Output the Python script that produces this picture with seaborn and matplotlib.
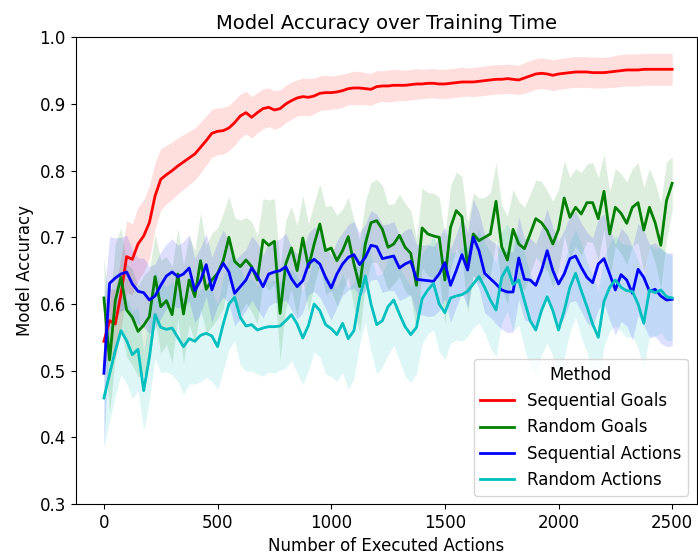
import numpy as np
import pandas as pd
import matplotlib
matplotlib.use("Agg")
import matplotlib.pyplot as plt
import seaborn as sns

# Executed actions at which the model was evaluated
steps = list(range(0, 2501, 25))

methods = ["Sequential Goals", "Random Goals", "Sequential Actions", "Random Actions"]
colors = {"Sequential Goals": "red", "Random Goals": "green",
          "Sequential Actions": "blue", "Random Actions": "c"}

# Mean accuracy per method
seq_goals = [
    0.544, 0.575, 0.570, 0.615, 0.671, 0.667, 0.690, 0.702, 0.722, 0.762,
    0.787, 0.794, 0.800, 0.807, 0.813, 0.819, 0.825, 0.835, 0.845, 0.856,
    0.859, 0.860, 0.864, 0.872, 0.882, 0.887, 0.880, 0.887, 0.893, 0.895,
    0.891, 0.893, 0.900, 0.905, 0.909, 0.911, 0.910, 0.912, 0.916, 0.917,
    0.917, 0.918, 0.920, 0.923, 0.924, 0.924, 0.923, 0.922, 0.926, 0.927,
    0.927, 0.928, 0.928, 0.928, 0.929, 0.930, 0.930, 0.931, 0.931, 0.930,
    0.930, 0.931, 0.932, 0.933, 0.933, 0.933, 0.934, 0.935, 0.936, 0.937,
    0.937, 0.938, 0.937, 0.936, 0.939, 0.942, 0.945, 0.946, 0.945, 0.943,
    0.945, 0.946, 0.947, 0.948, 0.948, 0.948, 0.947, 0.947, 0.947, 0.948,
    0.949, 0.950, 0.951, 0.951, 0.951, 0.952, 0.952, 0.952, 0.952, 0.952,
    0.952]
rand_goals = [
    0.609, 0.516, 0.605, 0.640, 0.591, 0.580, 0.559, 0.568, 0.581, 0.641,
    0.596, 0.605, 0.584, 0.645, 0.585, 0.636, 0.611, 0.665, 0.622, 0.636,
    0.646, 0.665, 0.700, 0.664, 0.656, 0.666, 0.656, 0.636, 0.696, 0.688,
    0.694, 0.586, 0.660, 0.684, 0.650, 0.699, 0.655, 0.690, 0.720, 0.680,
    0.684, 0.665, 0.680, 0.701, 0.660, 0.626, 0.690, 0.722, 0.725, 0.712,
    0.685, 0.690, 0.703, 0.685, 0.676, 0.628, 0.714, 0.705, 0.702, 0.700,
    0.636, 0.715, 0.740, 0.731, 0.655, 0.705, 0.695, 0.700, 0.705, 0.754,
    0.686, 0.666, 0.712, 0.690, 0.683, 0.705, 0.728, 0.722, 0.710, 0.690,
    0.712, 0.759, 0.730, 0.745, 0.735, 0.752, 0.752, 0.728, 0.769, 0.705,
    0.745, 0.736, 0.721, 0.745, 0.752, 0.711, 0.745, 0.722, 0.688, 0.755,
    0.781]
seq_actions = [
    0.496, 0.631, 0.639, 0.645, 0.648, 0.630, 0.619, 0.617, 0.606, 0.612,
    0.628, 0.642, 0.648, 0.641, 0.645, 0.654, 0.620, 0.635, 0.659, 0.621,
    0.645, 0.661, 0.648, 0.616, 0.626, 0.636, 0.654, 0.642, 0.626, 0.645,
    0.648, 0.650, 0.656, 0.638, 0.626, 0.635, 0.660, 0.667, 0.660, 0.640,
    0.624, 0.645, 0.660, 0.670, 0.674, 0.659, 0.670, 0.688, 0.686, 0.668,
    0.670, 0.672, 0.654, 0.660, 0.664, 0.637, 0.636, 0.635, 0.634, 0.645,
    0.662, 0.628, 0.650, 0.674, 0.651, 0.700, 0.680, 0.646, 0.638, 0.630,
    0.621, 0.618, 0.618, 0.669, 0.637, 0.636, 0.628, 0.650, 0.680, 0.650,
    0.630, 0.645, 0.668, 0.672, 0.655, 0.640, 0.632, 0.660, 0.668, 0.645,
    0.621, 0.644, 0.636, 0.616, 0.652, 0.640, 0.619, 0.622, 0.612, 0.606,
    0.607]
rand_actions = [
    0.459, 0.495, 0.530, 0.560, 0.545, 0.524, 0.532, 0.470, 0.520, 0.584,
    0.565, 0.562, 0.564, 0.550, 0.536, 0.548, 0.544, 0.553, 0.556, 0.552,
    0.536, 0.570, 0.600, 0.610, 0.580, 0.567, 0.569, 0.561, 0.564, 0.566,
    0.566, 0.567, 0.575, 0.584, 0.570, 0.549, 0.568, 0.600, 0.590, 0.569,
    0.563, 0.554, 0.571, 0.548, 0.560, 0.610, 0.642, 0.600, 0.569, 0.575,
    0.596, 0.606, 0.585, 0.566, 0.554, 0.565, 0.608, 0.621, 0.631, 0.600,
    0.587, 0.609, 0.612, 0.614, 0.619, 0.630, 0.641, 0.625, 0.606, 0.591,
    0.640, 0.655, 0.629, 0.636, 0.605, 0.575, 0.561, 0.590, 0.611, 0.590,
    0.561, 0.590, 0.625, 0.646, 0.620, 0.596, 0.570, 0.550, 0.604, 0.625,
    0.636, 0.625, 0.620, 0.619, 0.600, 0.571, 0.621, 0.617, 0.621, 0.611,
    0.609]

# Half-width of the 95% confidence interval per method
seq_goals_ci = [
    0.040, 0.048, 0.052, 0.055, 0.054, 0.053, 0.055, 0.054, 0.055, 0.050,
    0.046, 0.044, 0.043, 0.042, 0.041, 0.040, 0.039, 0.038, 0.037, 0.036,
    0.035, 0.035, 0.034, 0.034, 0.033, 0.032, 0.031, 0.030, 0.030, 0.029,
    0.029, 0.028, 0.028, 0.028, 0.027, 0.028, 0.028, 0.027, 0.026, 0.026,
    0.025, 0.025, 0.025, 0.024, 0.025, 0.025, 0.024, 0.024, 0.024, 0.023,
    0.024, 0.024, 0.023, 0.023, 0.023, 0.023, 0.022, 0.022, 0.022, 0.022,
    0.022, 0.022, 0.022, 0.022, 0.021, 0.022, 0.022, 0.022, 0.022, 0.022,
    0.022, 0.022, 0.022, 0.022, 0.023, 0.023, 0.023, 0.023, 0.023, 0.023,
    0.023, 0.023, 0.023, 0.023, 0.023, 0.023, 0.023, 0.023, 0.023, 0.023,
    0.024, 0.024, 0.024, 0.024, 0.024, 0.024, 0.024, 0.024, 0.024, 0.024,
    0.024]
rand_goals_ci = [
    0.060, 0.080, 0.085, 0.075, 0.070, 0.072, 0.068, 0.075, 0.070, 0.065,
    0.070, 0.066, 0.072, 0.068, 0.074, 0.066, 0.070, 0.072, 0.066, 0.070,
    0.068, 0.072, 0.062, 0.066, 0.070, 0.064, 0.068, 0.066, 0.062, 0.068,
    0.064, 0.070, 0.066, 0.062, 0.068, 0.064, 0.066, 0.062, 0.060, 0.066,
    0.064, 0.068, 0.062, 0.060, 0.066, 0.070, 0.064, 0.060, 0.062, 0.066,
    0.064, 0.060, 0.062, 0.066, 0.064, 0.070, 0.060, 0.062, 0.064, 0.060,
    0.066, 0.062, 0.058, 0.060, 0.068, 0.062, 0.064, 0.060, 0.062, 0.058,
    0.062, 0.066, 0.060, 0.064, 0.062, 0.060, 0.058, 0.062, 0.060, 0.064,
    0.060, 0.056, 0.060, 0.058, 0.062, 0.058, 0.060, 0.062, 0.056, 0.064,
    0.058, 0.060, 0.062, 0.058, 0.060, 0.064, 0.058, 0.060, 0.064, 0.058,
    0.040]
seq_actions_ci = [
    0.110, 0.070, 0.060, 0.055, 0.055, 0.052, 0.050, 0.052, 0.050, 0.048,
    0.050, 0.048, 0.050, 0.047, 0.049, 0.050, 0.048, 0.050, 0.047, 0.049,
    0.048, 0.050, 0.047, 0.049, 0.048, 0.046, 0.048, 0.050, 0.047, 0.048,
    0.046, 0.048, 0.050, 0.047, 0.049, 0.048, 0.046, 0.048, 0.050, 0.047,
    0.048, 0.050, 0.047, 0.049, 0.050, 0.048, 0.050, 0.052, 0.049, 0.051,
    0.050, 0.052, 0.049, 0.051, 0.050, 0.053, 0.052, 0.054, 0.052, 0.055,
    0.054, 0.056, 0.055, 0.057, 0.056, 0.058, 0.057, 0.059, 0.058, 0.060,
    0.059, 0.061, 0.060, 0.062, 0.061, 0.063, 0.062, 0.064, 0.063, 0.065,
    0.064, 0.066, 0.065, 0.067, 0.066, 0.068, 0.067, 0.068, 0.067, 0.069,
    0.068, 0.070, 0.069, 0.070, 0.069, 0.071, 0.070, 0.070, 0.071, 0.070,
    0.070]
rand_actions_ci = [
    0.075, 0.070, 0.068, 0.066, 0.064, 0.066, 0.062, 0.060, 0.064, 0.066,
    0.068, 0.064, 0.070, 0.066, 0.072, 0.068, 0.064, 0.070, 0.066, 0.068,
    0.064, 0.070, 0.068, 0.066, 0.072, 0.068, 0.070, 0.066, 0.072, 0.068,
    0.070, 0.066, 0.072, 0.068, 0.074, 0.070, 0.068, 0.072, 0.070, 0.074,
    0.072, 0.070, 0.074, 0.076, 0.072, 0.070, 0.068, 0.072, 0.074, 0.070,
    0.072, 0.068, 0.070, 0.074, 0.072, 0.070, 0.068, 0.066, 0.070, 0.072,
    0.070, 0.068, 0.066, 0.070, 0.068, 0.066, 0.070, 0.068, 0.072, 0.070,
    0.068, 0.066, 0.070, 0.068, 0.072, 0.070, 0.068, 0.066, 0.070, 0.068,
    0.066, 0.070, 0.068, 0.066, 0.070, 0.068, 0.072, 0.070, 0.068, 0.066,
    0.068, 0.066, 0.070, 0.068, 0.066, 0.070, 0.068, 0.066, 0.064, 0.066,
    0.064]

means = {"Sequential Goals": seq_goals, "Random Goals": rand_goals,
         "Sequential Actions": seq_actions, "Random Actions": rand_actions}
cis = {"Sequential Goals": seq_goals_ci, "Random Goals": rand_goals_ci,
       "Sequential Actions": seq_actions_ci, "Random Actions": rand_actions_ci}

df = pd.concat(
    [pd.DataFrame({"Executed": steps, "Accuracy": means[m], "ci": cis[m], "Method": m})
     for m in methods],
    ignore_index=True,
)

plt.rcParams.update({"font.size": 12, "font.family": "DejaVu Sans"})

fig = plt.figure(figsize=(6.98, 5.57), dpi=100)
ax = fig.add_axes([75.5 / 698, 53 / 557, 621 / 698, 466.7 / 557])

for m in methods:
    sub = df[df["Method"] == m]
    ax.fill_between(sub["Executed"], sub["Accuracy"] - sub["ci"],
                    sub["Accuracy"] + sub["ci"], color=colors[m],
                    alpha=0.13, linewidth=0)

sns.lineplot(data=df, x="Executed", y="Accuracy", hue="Method",
             hue_order=methods, palette=colors, linewidth=2, ax=ax)

ax.set_xlim(-125, 2607)
ax.set_ylim(0.3, 1.0)
ax.set_xticks([0, 500, 1000, 1500, 2000, 2500])
ax.set_title("Model Accuracy over Training Time", fontsize=14)
ax.set_xlabel("Number of Executed Actions", fontsize=12)
ax.set_ylabel("Model Accuracy", fontsize=12)
ax.tick_params(labelsize=12)
ax.legend(title="Method", loc="lower right", fontsize=12, title_fontsize=12)

fig.savefig("out.png", dpi=100)
